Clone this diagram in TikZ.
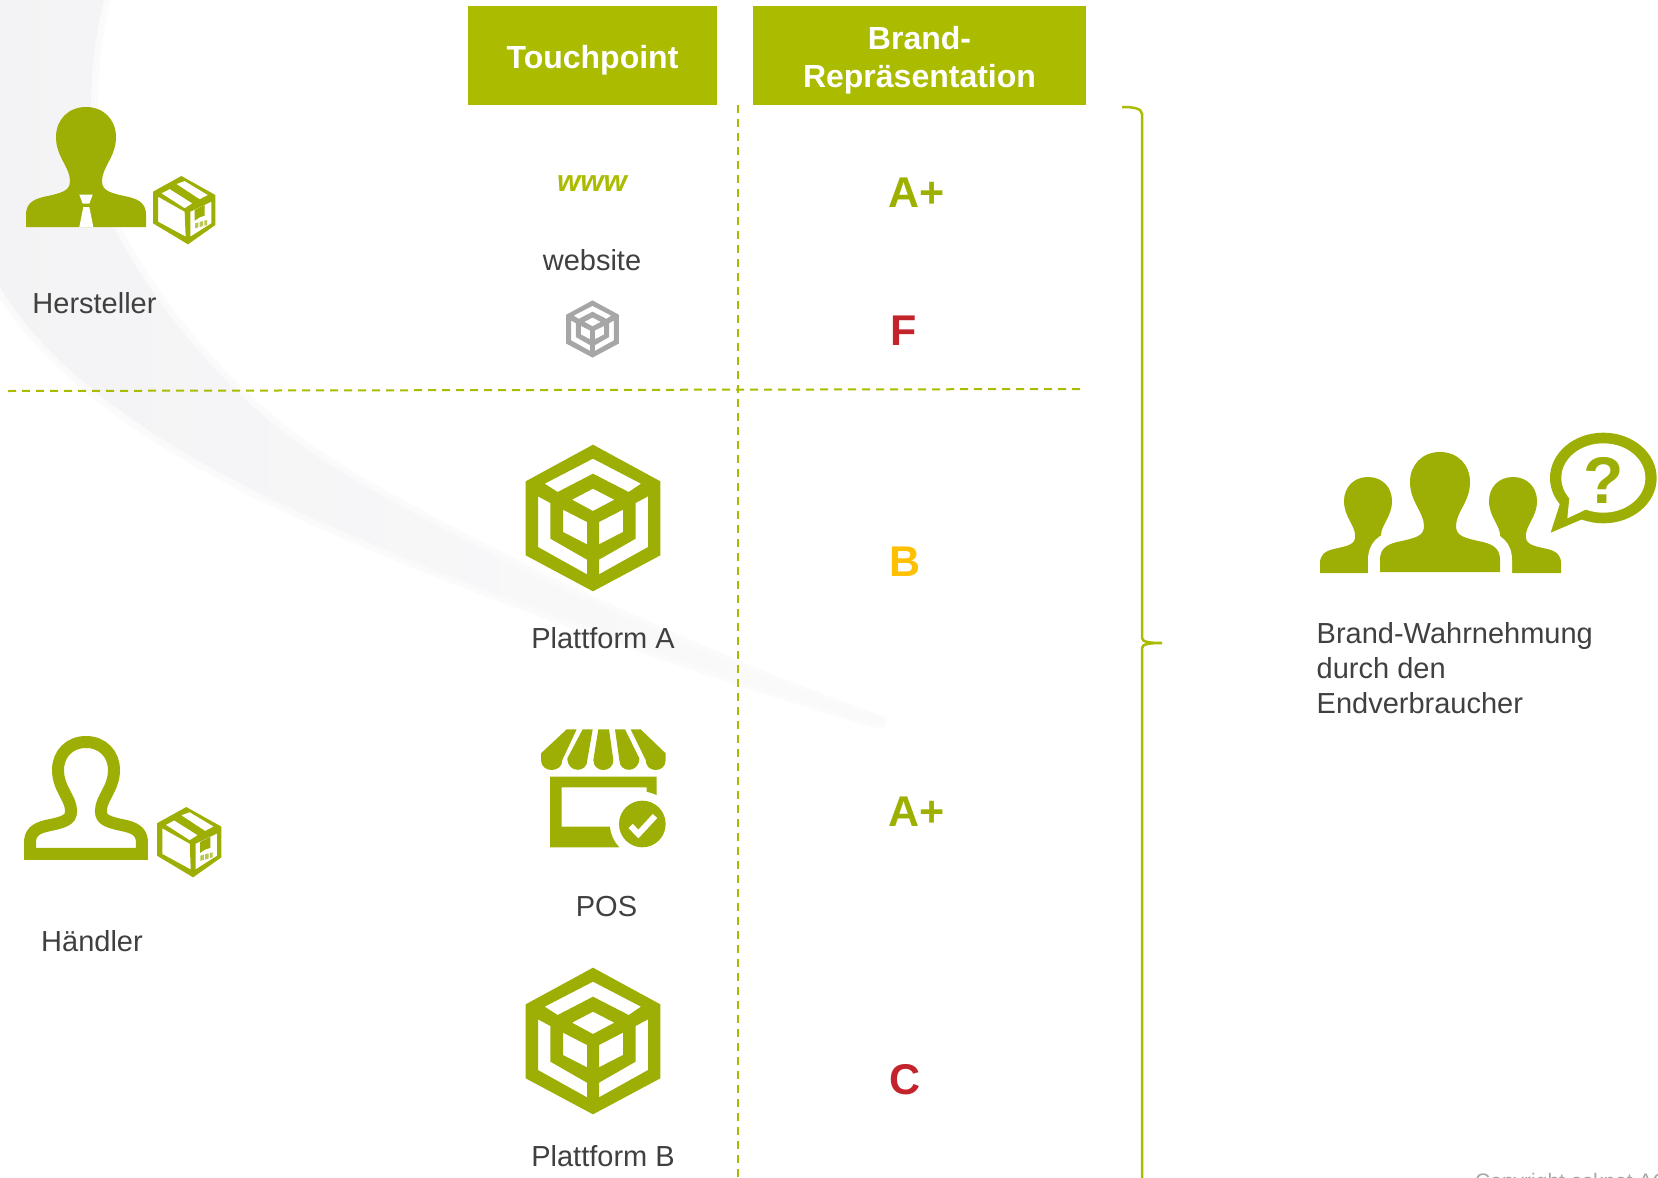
\documentclass[tikz,border=0pt]{standalone}
\usepackage{fontspec}
\setmainfont{Liberation Sans}

\definecolor{icongreen}{HTML}{9DAF04}
\definecolor{headgreen}{HTML}{AABB00}
\definecolor{gradegreen}{HTML}{9DB000}
\definecolor{graded}{HTML}{C3242B}
\definecolor{gradeb}{HTML}{FFC000}
\definecolor{textgray}{HTML}{404040}
\definecolor{cubegray}{HTML}{A6A6A6}
\definecolor{swooshgray}{HTML}{F3F3F5}

\newcommand{\headstrut}{\rule{0pt}{32pt}}
\newcommand{\swooshpath}{(-20,-20) -- (104,-20) -- (104,0)
    .. controls (88,60) and (80,170) .. (122,243)
    .. controls (165,320) and (240,410) .. (333,467)
    .. controls (450,540) and (700,660) .. (880,722)
    .. controls (700,670) and (480,590) .. (380,547)
    .. controls (280,505) and (80,420) .. (0,287) -- (-20,287) -- cycle}

\begin{document}
\begin{tikzpicture}
    [
        x=1pt, y=-1pt,
        headbox/.style={fill=headgreen, text=white, align=center, inner sep=0pt, minimum height=99pt,
            font=\fontsize{32}{38}\selectfont\bfseries},
        caption/.style={text=textgray, inner sep=0pt, anchor=base, font=\fontsize{29}{35}\selectfont},
        grade/.style={inner sep=0pt, anchor=base west, font=\fontsize{43}{50}\selectfont\bfseries},
        divider/.style={draw=headgreen, line width=2pt, dash pattern=on 8pt off 6pt},
        brace/.style={draw=headgreen, line width=2.5pt},
        person/.pic={
            \path [pic actions] (-60,120) -- (-60,108)
                .. controls (-60,98) and (-55,93) .. (-43,90)
                .. controls (-24,86) and (-16,84) .. (-16,74)
                .. controls (-16,60) and (-30,50) .. (-30,30)
                .. controls (-30,13) and (-18,0) .. (0,0)
                .. controls (18,0) and (30,13) .. (30,30)
                .. controls (30,50) and (16,60) .. (16,74)
                .. controls (16,84) and (24,86) .. (43,90)
                .. controls (55,93) and (60,98) .. (60,108)
                -- (60,120) -- cycle;
        },
        parcel/.pic={
            \fill [icongreen, even odd rule]
                (-5,-102) -- (97,-45) -- (97,45) -- (15,103) -- (-90,40) -- (-90,-55) -- cycle
                (-75,-40) -- (5,5) -- (8,80) -- (-75,35) -- cycle
                (22,5) -- (85,-25) -- (85,40) -- (22,80) -- cycle
                (-65,-50) -- (-40,-63) -- (28,-20) -- (5,-5) -- cycle
                (-20,-78) -- (5,-87) -- (75,-45) -- (50,-32) -- cycle;
            \fill [icongreen] (35,0) -- (65,-15) -- (65,17) -- (50,22) -- (35,32) -- cycle;
            \fill [icongreen!70] (36,40) -- (46,37) -- (46,52) -- (36,55) -- cycle;
            \fill [icongreen!70] (50,36) -- (60,33) -- (60,48) -- (50,51) -- cycle;
            \fill [icongreen!70] (64,32) -- (72,30) -- (72,45) -- (64,47) -- cycle;
        },
        cube/.pic={
            \fill [#1, even odd rule]
                (0,-220) -- (202,-110) -- (202,112) -- (0,220) -- (-202,112) -- (-202,-110) -- cycle
                (0,-178) -- (144,-103) -- (107,-78) -- (0,-133) -- (-106,-78) -- (-145,-103) -- cycle
                (-165,-65) -- (-128,-45) -- (-128,62) -- (-18,125) -- (-18,169) -- (-165,87) -- cycle
                (165,-65) -- (128,-45) -- (128,62) -- (18,125) -- (18,169) -- (165,87) -- cycle
                (0,-88) -- (64,-55) -- (0,-21) -- (-63,-55) -- cycle
                (-90,-25) -- (-18,12) -- (-18,79) -- (-90,42) -- cycle
                (90,-25) -- (18,12) -- (18,79) -- (90,42) -- cycle;
        },
    ]

    \useasboundingbox (0,0) rectangle (1658,1178);
    \clip (0,0) rectangle (1658,1178);

    % backdrop, fading towards its tail
    \foreach \w in {14,7} {
        \draw [draw=swooshgray!60, draw opacity=0.5, line width=\w pt, line join=round] \swooshpath;
    }
    \shade [left color=swooshgray, middle color=swooshgray, right color=swooshgray!35] \swooshpath;

    % table head
    \node (touchhead) at (592.5,55.5)   [headbox, minimum width=249pt] {\headstrut Touchpoint};
    \node (brandhead) at (919.5,55.5)   [headbox, minimum width=333pt] {\headstrut Brand-\\Repräsentation};

    % dashed lines
    \coordinate (vtop) at (738,105);
    \coordinate (vbot) at (738,1178);
    \coordinate (hleft) at (8,391);
    \coordinate (hright) at (1081,389);
    \draw [divider] (vtop) -- (vbot);
    \draw [divider] (hleft) -- (hright);

    % left column
    \pic at (86,107) [fill=icongreen] {person};
    \fill [white] (79.3,194.7) -- (92.7,194.7) -- (89.3,203.7) -- (82.7,203.7) -- cycle;
    \fill [white] (83.3,207) -- (89.3,207) -- (93.3,227) -- (79.3,227) -- cycle;
    \pic at (183,210) [scale=1/3] {parcel};
    \node (hersteller) at (94.5,313)    [caption] {Hersteller};

    \pic at (86,742) [draw=icongreen, line width=12pt, scale=0.933] {person};
    \pic at (188,842) [scale=0.343] {parcel};
    \node (haendler) at (92,951)        [caption] {Händler};

    % touchpoints
    \node (www) at (592,191)            [caption, text=headgreen, font=\fontsize{30}{35}\selectfont\bfseries\itshape] {www};
    \node (website) at (592,270)        [caption] {website};
    \pic at (592.5,329) [scale=0.13] {cube=cubegray};

    \pic at (593,518) [scale=1/3] {cube=icongreen};
    \node (plattforma) at (603,648)     [caption] {Plattform A};

    \begin{scope}[shift={(500,700)}, scale=1/3]
        \fill [icongreen] (200,88) -- (123,160) -- (123,180) .. controls (123,220) and (187,220) .. (187,180) -- (230,88) -- cycle;
        \fill [icongreen] (248,88) -- (202,175) .. controls (202,220) and (262,220) .. (262,180) -- (278,88) -- cycle;
        \fill [icongreen] (295,88) -- (280,180) .. controls (280,220) and (340,220) .. (340,180) -- (327,88) -- cycle;
        \fill [icongreen] (345,88) -- (358,180) .. controls (358,220) and (418,220) .. (418,175) -- (375,88) -- cycle;
        \fill [icongreen] (392,88) -- (437,180) .. controls (437,220) and (497,220) .. (497,180) -- (497,160) -- (422,88) -- cycle;
        \fill [icongreen] (150,230) -- (470,230) -- (470,285) .. controls (460,280) and (450,278) .. (440,275) -- (440,262) -- (185,262) -- (185,380) -- (330,380)
            .. controls (332,405) and (342,425) .. (358,442) -- (150,442) -- cycle;
        \fill [icongreen] (427,372) circle [radius=70];
        \draw [white, line width=6pt] (392,378) -- (415,402) -- (465,348);
    \end{scope}
    \node (pos) at (606.5,916)          [caption] {POS};

    \pic at (593,1041) [scale=1/3] {cube=icongreen};
    \node (plattformb) at (603,1166)    [caption] {Plattform B};

    % grades
    \node (gradea) at (888,207)         [grade, text=gradegreen] {A+};
    \node (gradef) at (890,345)         [grade, text=graded] {F};
    \node (gradeb) at (889,576)         [grade, text=gradeb] {B};
    \node (gradeap) at (888,826)        [grade, text=gradegreen] {A+};
    \node (gradec) at (889,1094)        [grade, text=graded] {C};

    % brace
    \coordinate (bracetop) at (1122,107);
    \coordinate (bracetip) at (1162,643);
    \coordinate (bracebot) at (1142,1178);
    \draw [brace] (bracetop) .. controls (1132,107) and (1142,108) .. (1142,114)
        -- (1142,638) .. controls (1142,642) and (1150,643) .. (bracetip)
        .. controls (1150,643) and (1142,644) .. (1142,648) -- (bracebot);

    % consumers
    \pic at (1368,477) [fill=icongreen, scale=0.8] {person};
    \pic at (1513,477) [fill=icongreen, scale=0.8] {person};
    \pic at (1440,452) [draw=white, line width=24pt] {person};
    \pic at (1440,452) [fill=icongreen] {person};
    \begin{scope}[shift={(1290,410)}, scale=1/3]
        \fill [icongreen] (940,204) circle [x radius=160, y radius=136];
        \fill [icongreen] (815,265) -- (782,368) -- (890,322) -- cycle;
        \fill [white] (940,204) circle [x radius=126, y radius=104];
        \fill [white] (838,265) -- (832,325) -- (895,295) -- cycle;
    \end{scope}
    \node (question) at (1604,503)      [caption, text=icongreen, font=\fontsize{66}{70}\selectfont\bfseries] {?};

    \node (perception) at (1316.5,643)  [caption, anchor=base west] {Brand-Wahrnehmung};
    \node (perceptionb) at (1316.5,678) [caption, anchor=base west] {durch den};
    \node (perceptionc) at (1316.5,713) [caption, anchor=base west] {Endverbraucher};

    \node (copyright) at (1475,1188)    [caption, anchor=base west, text=cubegray, font=\fontsize{21}{25}\selectfont] {Copyright asknet AG};

\end{tikzpicture}
\end{document}
